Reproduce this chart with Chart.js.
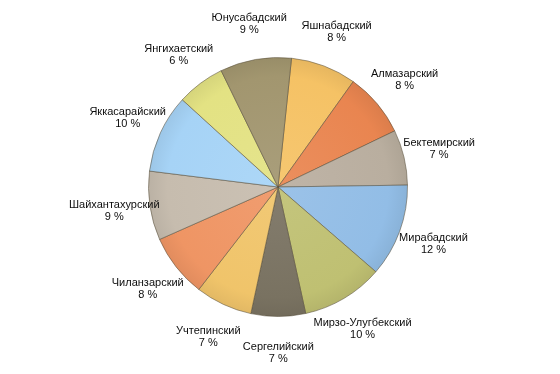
<!DOCTYPE html>
<html>
<head>
<meta charset="utf-8">
<script src="https://cdn.jsdelivr.net/npm/chart.js@4/dist/chart.umd.min.js"></script>
<style>
html,body{margin:0;padding:0;background:#fff;}
#wrap{width:560px;height:374px;}
</style>
</head>
<body>
<div id="wrap"><canvas id="c" width="560" height="374"></canvas></div>
<script>
const categories = ["Яшнабадский","Алмазарский","Бектемирский","Мирабадский","Мирзо-Улугбекский","Сергелийский","Учтепинский","Чиланзарский","Шайхантахурский","Яккасарайский","Янгихаетский","Юнусабадский"];
const shares = [8.2, 8.0, 6.9, 11.6, 10.2, 6.8, 7.1, 7.9, 8.6, 9.8, 6.0, 8.9];
const percentLabels = ["8 %","8 %","7 %","12 %","10 %","7 %","7 %","8 %","9 %","10 %","6 %","9 %"];
const colors = ["#f5c265","#e98550","#b9ae9f","#92bde6","#bfc072","#797261","#f0c46a","#ef9564","#c6bcae","#a6d3f6","#e3e283","#a2966f"];

function shade(hex, amt){
  const n = parseInt(hex.slice(1),16);
  let r=(n>>16)&255,g=(n>>8)&255,b=n&255;
  const t = amt<0?0:255, p=Math.abs(amt);
  r=Math.round(r+(t-r)*p); g=Math.round(g+(t-g)*p); b=Math.round(b+(t-b)*p);
  return `rgb(${r},${g},${b})`;
}

const labelPlugin = {
  id:'outLabels',
  afterDatasetsDraw(chart){
    const ctx = chart.ctx;
    const meta = chart.getDatasetMeta(0);
    ctx.save();
    ctx.font = '11px "Liberation Sans", Arial, sans-serif';
    ctx.fillStyle = '#0d0d0d';
    ctx.textAlign = 'center';
    ctx.textBaseline = 'middle';
    meta.data.forEach((arc,i)=>{
      const mid = (arc.startAngle+arc.endAngle)/2;
      const d = arc.outerRadius + 36;
      const x = arc.x + Math.cos(mid)*d;
      const y = arc.y + Math.sin(mid)*d;
      ctx.fillText(categories[i], x, y-6);
      ctx.fillText(percentLabels[i], x, y+6);
    });
    ctx.restore();
  }
};

new Chart(document.getElementById('c'),{
  type:'pie',
  data:{
    labels:categories,
    datasets:[{
      data:shares,
      backgroundColor:(c)=>{
        const chart=c.chart; const area=chart.chartArea;
        if(!area) return colors[c.dataIndex];
        const cx=(area.left+area.right)/2, cy=(area.top+area.bottom)/2;
        const r=Math.min(area.right-area.left, area.bottom-area.top)/2;
        const g=chart.ctx.createRadialGradient(cx,cy,0,cx,cy,r);
        const col=colors[c.dataIndex];
        g.addColorStop(0, shade(col,0.08));
        g.addColorStop(0.85, col);
        g.addColorStop(1, shade(col,-0.06));
        return g;
      },
      borderColor:'rgba(90,80,60,0.55)',
      borderWidth:1
    }]
  },
  options:{
    responsive:false,
    animation:false,
    rotation:6,
    layout:{padding:{top:57,bottom:57,left:148,right:152}},
    plugins:{legend:{display:false},tooltip:{enabled:false}}
  },
  plugins:[labelPlugin]
});
</script>
</body>
</html>
